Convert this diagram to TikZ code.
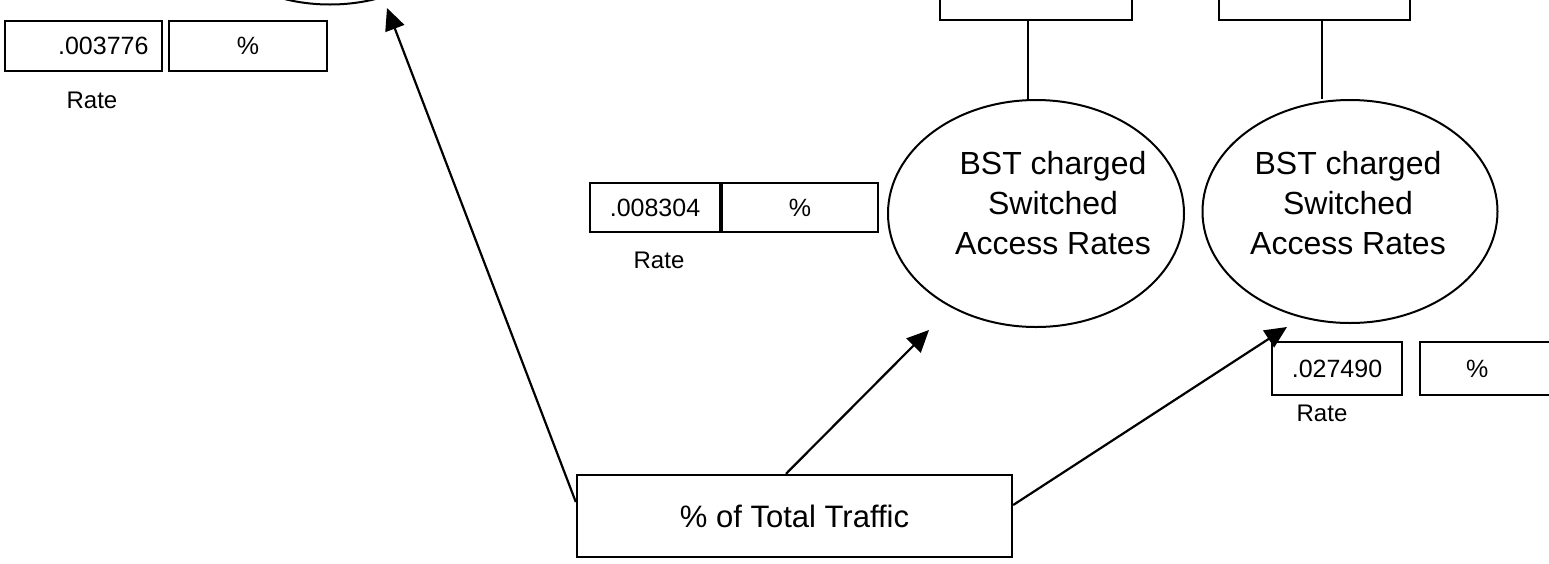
\documentclass[tikz,border=0pt]{standalone}
\usepackage{fontspec}
\setmainfont{Liberation Sans}
\usetikzlibrary{shapes.geometric, arrows.meta, positioning}
\tikzstyle{arrow} = [line width=1.1pt,-{Triangle[length=11pt,width=10pt]}]
\tikzstyle{link} = [line width=1pt]
\tikzstyle{valbox} = [rectangle, draw=black, line width=1pt, minimum height=25pt, inner sep=0pt, font=\fontsize{12.5}{15}\selectfont]
\tikzstyle{oval} = [ellipse, draw=black, line width=1pt, minimum width=148pt, minimum height=113.5pt, inner sep=0pt]
\tikzstyle{ovaltext} = [align=center, font=\fontsize{16}{20}\selectfont]
\tikzstyle{ratelbl} = [font=\fontsize{12}{14}\selectfont]
\tikzstyle{traffic} = [rectangle, draw=black, line width=1.2pt, minimum width=217.5pt, minimum height=41pt, font=\fontsize{15.5}{18}\selectfont]

\begin{document}
\begin{tikzpicture}[x=0.5pt, y=-0.5pt]
\useasboundingbox (0,0) rectangle (1549,563);
\clip (0,0) rectangle (1549,563);

% Placement of nodes
\node (accTop) [oval] at (330,-109) {};
\node (rateA) [valbox, minimum width=78.5pt, text width=65pt, align=right] at (83.5,46) {.003776};
\node (pctA) [valbox, minimum width=79pt, right=2.5pt of rateA] {\%};
\node (rateAlbl) [ratelbl] at (92,100) {Rate};

\node (rateB) [valbox, minimum width=65pt, minimum height=24.5pt] at (655,207.5) {.008304};
\node (pctB) [valbox, minimum width=78pt, minimum height=24.5pt, right=0pt of rateB] {\%};
\node (rateBlbl) [ratelbl] at (659,260) {Rate};

\node (feedA) [valbox, minimum width=96pt, minimum height=40pt] at (1036,-20) {};
\node (feedB) [valbox, minimum width=95.5pt, minimum height=40pt] at (1314.5,-20) {};

\node (accA) [oval] at (1036,213.5) {};
\node (accAtxt) [ovaltext] at (1053,203) {BST charged\\Switched\\Access Rates};
\node (accB) [oval, minimum width=147.5pt, minimum height=111.5pt] at (1350,211.5) {};
\node (accBtxt) [ovaltext] at (1348,203) {BST charged\\Switched\\Access Rates};

\node (rateC) [valbox, minimum width=65pt, minimum height=26.5pt] at (1337,368.5) {.027490};
\node (pctC) [valbox, minimum width=69pt, minimum height=26.5pt, text width=69pt, align=left, right=8pt of rateC] {\hspace*{23pt}\%};
\node (rateClbl) [ratelbl] at (1322,413) {Rate};

\node (traffic) [traffic] at (794.5,516) {\% of Total Traffic};

\coordinate (tipTop) at (387,8);
\coordinate (tipA) at (929,330);
\coordinate (tipB) at (1287,327);

% Placement of edges
\draw [link] ([xshift=-4pt]feedA.south) -- ([xshift=-4pt]feedA.south |- accA.north);
\draw [link] ([xshift=3.75pt]feedB.south) -- ([xshift=3.75pt]feedB.south |- accB.north);

\draw [arrow] ([yshift=7pt]traffic.west) -- (tipTop);
\draw [arrow] ([xshift=-4.25pt]traffic.north) -- (tipA);
\draw [arrow] ([yshift=5.5pt]traffic.east) -- (tipB);

\end{tikzpicture}
\end{document}
